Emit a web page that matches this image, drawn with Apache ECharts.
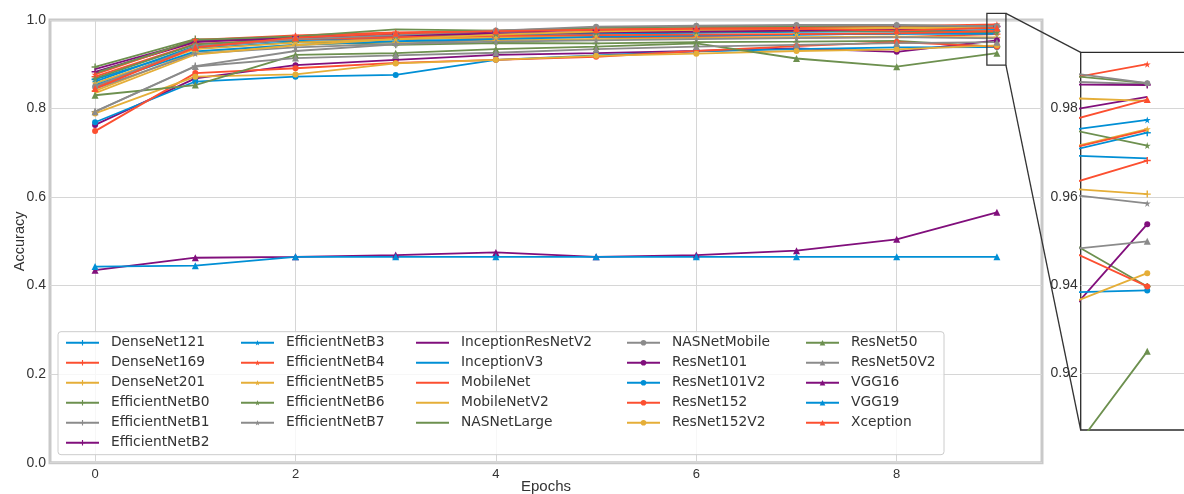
<!DOCTYPE html>
<html>
<head>
<meta charset="utf-8">
<script src="https://cdn.jsdelivr.net/npm/echarts@6/dist/echarts.min.js"></script>
<style>
  html, body { margin: 0; padding: 0; background: #ffffff; }
  #chart { width: 1184px; height: 494px; }
</style>
</head>
<body>
<div id="chart"></div>
<script>
// Validation accuracy per epoch for each pretrained backbone
const epochs = [0, 1, 2, 3, 4, 5, 6, 7, 8, 9];

const modelNames = [
  'DenseNet121', 'DenseNet169', 'DenseNet201', 'EfficientNetB0', 'EfficientNetB1', 'EfficientNetB2',
  'EfficientNetB3', 'EfficientNetB4', 'EfficientNetB5', 'EfficientNetB6', 'EfficientNetB7',
  'InceptionResNetV2', 'InceptionV3', 'MobileNet', 'MobileNetV2', 'NASNetLarge',
  'NASNetMobile', 'ResNet101', 'ResNet101V2', 'ResNet152', 'ResNet152V2',
  'ResNet50', 'ResNet50V2', 'VGG16', 'VGG19', 'Xception'
];

const denseNet121       = [0.866, 0.936, 0.950, 0.957, 0.961, 0.964, 0.966, 0.967, 0.9692, 0.9745];
const denseNet169       = [0.872, 0.946, 0.956, 0.958, 0.960, 0.961, 0.962, 0.960, 0.9614, 0.9682];
const denseNet201       = [0.840, 0.928, 0.944, 0.950, 0.954, 0.957, 0.959, 0.961, 0.9622, 0.9606];
const efficientNetB0    = [0.894, 0.957, 0.951, 0.944, 0.948, 0.947, 0.950, 0.951, 0.9527, 0.9397];
const efficientNetB1    = [0.793, 0.896, 0.930, 0.945, 0.958, 0.968, 0.975, 0.980, 0.9862, 0.9855];
const efficientNetB2    = [0.883, 0.950, 0.962, 0.968, 0.973, 0.977, 0.980, 0.983, 0.9854, 0.9853];
const efficientNetB3    = [0.861, 0.941, 0.954, 0.962, 0.967, 0.969, 0.971, 0.973, 0.9744, 0.9774];
const efficientNetB4    = [0.877, 0.955, 0.965, 0.972, 0.976, 0.979, 0.982, 0.984, 0.9859, 0.9900];
const efficientNetB5    = [0.857, 0.934, 0.949, 0.957, 0.961, 0.964, 0.966, 0.968, 0.9699, 0.9753];
const efficientNetB6    = [0.868, 0.945, 0.957, 0.964, 0.969, 0.972, 0.974, 0.975, 0.9763, 0.9716];
const efficientNetB7    = [0.845, 0.924, 0.938, 0.946, 0.951, 0.954, 0.957, 0.959, 0.9611, 0.9585];
const inceptionResNetV2 = [0.889, 0.952, 0.959, 0.965, 0.969, 0.972, 0.974, 0.976, 0.9787, 0.9826];
const inceptionV3       = [0.853, 0.929, 0.944, 0.952, 0.957, 0.962, 0.965, 0.967, 0.9695, 0.9687];
const mobileNet         = [0.848, 0.939, 0.957, 0.961, 0.964, 0.966, 0.967, 0.968, 0.9697, 0.9751];
const mobileNetV2       = [0.835, 0.922, 0.943, 0.957, 0.967, 0.974, 0.978, 0.980, 0.9825, 0.9817];
const nasNetLarge       = [0.880, 0.955, 0.963, 0.979, 0.976, 0.982, 0.985, 0.986, 0.9879, 0.9857];
const nasNetMobile      = [0.850, 0.940, 0.957, 0.966, 0.976, 0.985, 0.987, 0.9887, 0.9887, 0.9857];
const resNet101         = [0.763, 0.868, 0.898, 0.910, 0.921, 0.925, 0.930, 0.936, 0.9282, 0.9538];
const resNet101V2       = [0.769, 0.861, 0.872, 0.876, 0.910, 0.920, 0.929, 0.934, 0.9382, 0.9388];
const resNet152         = [0.749, 0.880, 0.891, 0.903, 0.910, 0.917, 0.930, 0.941, 0.9501, 0.9397];
const resNet152V2       = [0.789, 0.872, 0.877, 0.902, 0.910, 0.919, 0.924, 0.930, 0.9338, 0.9427];
const resNet50          = [0.830, 0.853, 0.921, 0.925, 0.934, 0.940, 0.947, 0.913, 0.8946, 0.9250];
const resNet50V2        = [0.793, 0.895, 0.914, 0.920, 0.926, 0.934, 0.940, 0.944, 0.9476, 0.9499];
const vgg16             = [0.435, 0.463, 0.465, 0.469, 0.475, 0.465, 0.469, 0.479, 0.5045, 0.5656];
const vgg19             = [0.443, 0.445, 0.465, 0.465, 0.465, 0.465, 0.465, 0.465, 0.465, 0.465];
const xception          = [0.845, 0.938, 0.960, 0.970, 0.975, 0.978, 0.980, 0.980, 0.9759, 0.9820];

const accuracy = [
  denseNet121, denseNet169, denseNet201, efficientNetB0, efficientNetB1, efficientNetB2,
  efficientNetB3, efficientNetB4, efficientNetB5, efficientNetB6, efficientNetB7,
  inceptionResNetV2, inceptionV3, mobileNet, mobileNetV2, nasNetLarge,
  nasNetMobile, resNet101, resNet101V2, resNet152, resNet152V2,
  resNet50, resNet50V2, vgg16, vgg19, xception
];

// Axis ticks
const mainYTicks = [0.0, 0.2, 0.4, 0.6, 0.8, 1.0];
const mainXRange = [-0.45, 9.45];
// Zoomed view of the final epoch
const insetXRange = [8.335, 9.5];
const insetYRange = [0.9072, 0.9927];
const zoomBoxX = [8.9, 9.09];
const zoomBoxY = [0.898, 1.015];

// ---- styling ----
const palette = ['#008fd5', '#fc4f30', '#e5ae38', '#6d904f', '#8b8b8b', '#810f7c'];
const PLUS = 'path://M4,0h2v4h4v2h-4v4h-2v-4h-4v-2h4z';
const STAR = 'path://M50,0L61,35H98L68,57L79,91L50,70L21,91L32,57L2,35H39Z';
// legend columns: [first index, count, marker, marker size]
const columns = [
  { start: 0,  count: 6, symbol: PLUS, size: 7 },
  { start: 6,  count: 5, symbol: STAR, size: 7 },
  { start: 11, count: 5, symbol: 'none', size: 0 },
  { start: 16, count: 5, symbol: 'circle', size: 6 },
  { start: 21, count: 5, symbol: 'triangle', size: 7 }
];
const legendLefts = [65, 240, 415, 626, 805];

function markerFor(i) {
  for (const c of columns) {
    if (i >= c.start && i < c.start + c.count) return c;
  }
  return columns[0];
}

const series = [];
[0, 1].forEach(function (g) {
  modelNames.forEach(function (name, i) {
    const m = markerFor(i);
    const color = palette[i % palette.length];
    series.push({
      name: name,
      type: 'line',
      xAxisIndex: g,
      yAxisIndex: g,
      data: epochs.map(function (e, k) { return [e, accuracy[i][k]]; }),
      symbol: m.symbol,
      symbolSize: m.size,
      showSymbol: m.symbol !== 'none',
      color: color,
      lineStyle: { width: 1.8, color: color },
      itemStyle: { color: color },
      emphasis: { disabled: true },
      clip: true,
      z: 2
    });
  });
});

const tickFont = { fontFamily: 'Liberation Sans', fontSize: 14, color: '#333333' };

const option = {
  animation: false,
  backgroundColor: '#ffffff',
  grid: [
    { left: 50, top: 20, width: 992, height: 442.7, outerBoundsMode: 'none', containLabel: false,
      show: true, borderColor: '#c9c9c9', borderWidth: 3, backgroundColor: 'transparent' },
    { left: 1080.7, top: 52.3, width: (insetXRange[1] - insetXRange[0]) * 100.08, height: 377.7,
      outerBoundsMode: 'none', containLabel: false,
      show: true, borderColor: '#2a2a2a', borderWidth: 1.3, backgroundColor: '#ffffff' }
  ],
  xAxis: [
    {
      type: 'value', gridIndex: 0, min: mainXRange[0], max: mainXRange[1], splitNumber: 5,
      name: 'Epochs', nameLocation: 'middle', nameGap: 17, nameMoveOverlap: false,
      nameTextStyle: { fontFamily: 'Liberation Sans', fontSize: 15, color: '#333333' },
      axisLine: { show: false }, axisTick: { show: false },
      axisLabel: Object.assign({}, tickFont, { margin: 5, fontSize: 13, showMinLabel: false, showMaxLabel: false,
        formatter: function (v) { return Math.abs(v - Math.round(v)) < 1e-9 ? String(Math.round(v)) : ''; } }),
      splitLine: { show: true, showMinLine: false, showMaxLine: false, lineStyle: { color: '#d6d6d6', width: 1 } }
    },
    {
      type: 'value', gridIndex: 1, min: insetXRange[0], max: insetXRange[1],
      axisLine: { show: false }, axisTick: { show: false }, axisLabel: { show: false },
      splitLine: { show: false }
    }
  ],
  yAxis: [
    {
      type: 'value', gridIndex: 0, min: mainYTicks[0], max: mainYTicks[mainYTicks.length - 1], interval: 0.2,
      name: 'Accuracy', nameLocation: 'middle', nameGap: 23, nameRotate: 90, nameMoveOverlap: false,
      nameTextStyle: { fontFamily: 'Liberation Sans', fontSize: 14.5, color: '#333333' },
      axisLine: { show: false }, axisTick: { show: false },
      axisLabel: Object.assign({}, tickFont, { margin: 4, formatter: function (v) { return v.toFixed(1); } }),
      splitLine: { show: true, lineStyle: { color: '#d6d6d6', width: 1 } }
    },
    {
      type: 'value', gridIndex: 1, min: insetYRange[0], max: insetYRange[1], splitNumber: 5,
      axisLine: { show: false }, axisTick: { show: false },
      axisLabel: Object.assign({}, tickFont, { margin: 3, showMinLabel: false, showMaxLabel: false,
        formatter: function (v) { return v.toFixed(2); } }),
      splitLine: { show: true, showMinLine: false, showMaxLine: false, lineStyle: { color: '#d6d6d6', width: 1 } }
    }
  ],
  legend: columns.map(function (c, ci) {
    return {
      orient: 'vertical',
      left: legendLefts[ci],
      top: 335.7,
      padding: 0,
      itemGap: 6,
      itemWidth: 33,
      itemHeight: 7,
      selectedMode: false,
      data: modelNames.slice(c.start, c.start + c.count).map(function (n) {
        return c.symbol === 'none' ? { name: n, itemStyle: { opacity: 0 } } : n;
      }),
      textStyle: { fontFamily: 'DejaVu Sans', fontSize: 13.8, color: '#333333', lineHeight: 14, padding: [0, 0, 0, 7] }
    };
  }),
  series: series
};

const chart = echarts.init(document.getElementById('chart'), null, { renderer: 'canvas' });
chart.setOption(option);

// Zoom box on the main plot and its connector lines to the inset
const toPx = function (g, x, y) { return chart.convertToPixel({ gridIndex: g }, [x, y]); };
const boxTL = toPx(0, zoomBoxX[0], zoomBoxY[1]);
const boxBR = toPx(0, zoomBoxX[1], zoomBoxY[0]);
const insetTL = toPx(1, insetXRange[0], insetYRange[1]);
const insetBL = toPx(1, insetXRange[0], insetYRange[0]);
const edge = { stroke: '#333333', lineWidth: 1.3, fill: null };

chart.setOption({
  graphic: [
    { id: 'legendFrame', type: 'rect', z: 3, silent: true,
      shape: { x: 58, y: 331.7, width: 886, height: 123, r: 3 },
      style: { fill: 'rgba(255,255,255,0.8)', stroke: '#cccccc', lineWidth: 1 } },
    { id: 'zoomBox', type: 'rect', z: 10, silent: true,
      shape: { x: boxTL[0], y: boxTL[1], width: boxBR[0] - boxTL[0], height: boxBR[1] - boxTL[1] },
      style: edge },
    { id: 'linkTop', type: 'line', z: 10, silent: true,
      shape: { x1: boxBR[0], y1: boxTL[1], x2: insetTL[0], y2: insetTL[1] }, style: edge },
    { id: 'linkBottom', type: 'line', z: 10, silent: true,
      shape: { x1: boxBR[0], y1: boxBR[1], x2: insetBL[0], y2: insetBL[1] }, style: edge }
  ]
});
</script>
</body>
</html>
